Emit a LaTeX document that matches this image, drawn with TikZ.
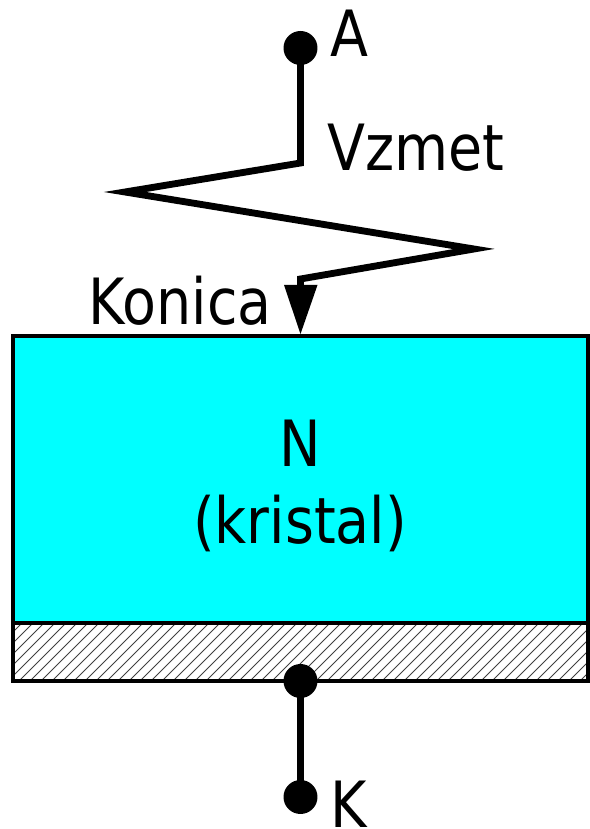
\documentclass[tikz,border=0pt]{standalone}
\usepackage{fontspec}
\setmainfont[FakeStretch=0.87]{DejaVu Sans}
\usepackage{xcolor}
\usetikzlibrary{positioning}
\definecolor{crystalcyan}{RGB}{0,255,255}
\tikzset{
  terminal/.style={circle,fill=black,inner sep=0pt,minimum size=0.68cm},
  wire/.style={line width=3.9pt},
  label/.style={font=\fontsize{36.3}{43.7}\selectfont,inner sep=0pt},
  layer/.style={draw=black,line width=1.9pt,inner sep=0pt,minimum width=11.5cm}
}
\begin{document}
\begin{tikzpicture}[x=0.02cm,y=0.02cm]
\useasboundingbox (0,0) rectangle (589,829);
\node[layer,fill=crystalcyan,minimum height=5.74cm] (crystal) at (300.5,349.5) {};
\node[layer,minimum height=1.16cm,path picture={
  \foreach \x in {0,11,...,660} \draw[black!75,line width=0.6pt] (\x-358.5,-29) -- (\x-300.5,29);
}] (base) at (300.5,177) {};
\node[terminal] (termA) at (300.5,781) {};
\node[terminal] (termJ) at (300.5,148) {};
\node[terminal] (termK) at (300.5,32) {};
\coordinate (bend1) at (300.5,666);
\coordinate (bend2) at (125,637);
\coordinate (bend3) at (474,580);
\coordinate (bend4) at (300.5,550);
\coordinate (tipbase) at (300.5,540);
\draw[wire,miter limit=20] (termA.center) -- (bend1) -- (bend2) -- (bend3) -- (bend4) -- (tipbase);
\fill (284,544) coordinate (tipL) -- (317.5,544) coordinate (tipR) -- (300.5,495) coordinate (tip) -- cycle;
\draw[wire] (termJ.center) -- (termK.center);
\node[label,anchor=base west] (labA) at (330,772) {A};
\node[label,anchor=base west] (labV) at (327,658) {Vzmet};
\node[label,anchor=base east] (labKon) at (272,504) {Konica};
\node[label,anchor=base west] (labK) at (330,2) {K};
\node[label,align=center] (labN) at (300,343) {N\\(kristal)};
\end{tikzpicture}
\end{document}
